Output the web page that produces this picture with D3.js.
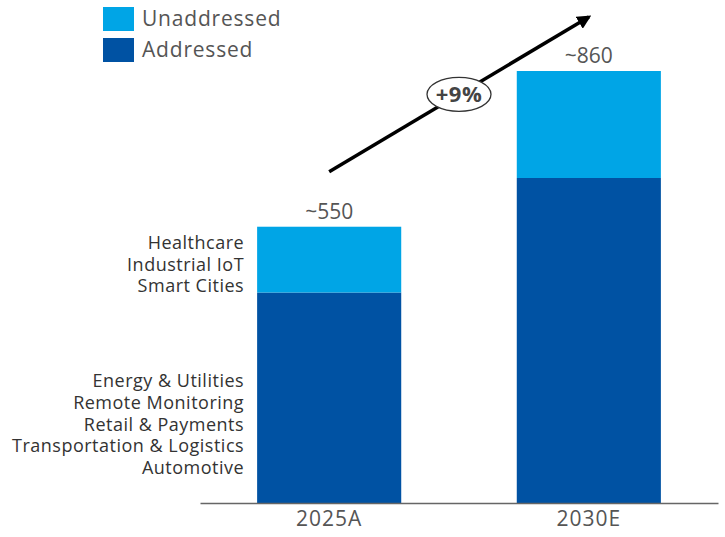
<!DOCTYPE html>
<html><head><meta charset="utf-8">
<script src="https://cdn.jsdelivr.net/npm/d3@7"></script>
<style>body{margin:0;background:#fff}svg{display:block}text{font-family:"Open Sans","Lato",sans-serif}</style>
</head><body><svg id="c" width="725" height="537"></svg>
<script>
const years = ["2025A", "2030E"];
const addressed = [419, 647];
const unaddressed = [131, 213];
const totalLabels = ["~550", "~860"];
const seriesNames = ["Unaddressed", "Addressed"];
const unaddressedSegments = ["Healthcare", "Industrial IoT", "Smart Cities"];
const addressedSegments = ["Energy & Utilities", "Remote Monitoring", "Retail & Payments", "Transportation & Logistics", "Automotive"];
const growthLabel = "+9%";

const colors = {Unaddressed: "#00a5e6", Addressed: "#0052a3"};
const textColor = "#555";
const svg = d3.select("#c");

const x = d3.scaleBand().domain(years).range([200, 718]).paddingInner(0.445).paddingOuter(0.22);
const y = d3.scaleLinear().domain([0, 860]).range([503, 71]);

const data = years.map((yr, i) => ({year: yr, Addressed: addressed[i], Unaddressed: unaddressed[i], label: totalLabels[i]}));
const stack = d3.stack().keys(["Addressed", "Unaddressed"])(data);

svg.append("g").selectAll("g").data(stack).join("g")
  .attr("fill", d => colors[d.key])
  .selectAll("rect").data(d => d).join("rect")
  .attr("x", d => x(d.data.year))
  .attr("width", x.bandwidth())
  .attr("y", d => y(d[1]))
  .attr("height", d => y(d[0]) - y(d[1]));

// axis
const ax = svg.append("g").attr("transform", "translate(0,503)").call(d3.axisBottom(x).tickSize(0).tickPadding(8));
ax.select(".domain").attr("stroke", "#666").attr("stroke-width", 1.5);
ax.selectAll("text").attr("font-size", 21).attr("fill", textColor).attr("font-family", "Open Sans").attr("letter-spacing", 1);

// totals
svg.selectAll("text.tot").data(data).join("text").attr("class", "tot")
  .attr("x", d => x(d.year) + x.bandwidth() / 2)
  .attr("y", d => y(d.Addressed + d.Unaddressed) - 8)
  .attr("text-anchor", "middle").attr("font-size", 21).attr("fill", textColor)
  .text(d => d.label);

// legend
const lg = svg.append("g");
seriesNames.forEach((n, i) => {
  lg.append("rect").attr("x", 103).attr("y", 7 + i * 31).attr("width", 31).attr("height", 24).attr("fill", colors[n]);
  lg.append("text").attr("x", 142).attr("y", 19 + i * 31).attr("dy", "0.35em")
    .attr("font-size", 21).attr("letter-spacing", 0.8).attr("fill", textColor).text(n);
});

// segment labels
const lx = x(years[0]) - 13;
const ytop0 = y(addressed[0] + unaddressed[0]);
svg.append("g").selectAll("text").data(unaddressedSegments).join("text")
  .attr("x", lx).attr("y", (d, i) => ytop0 + 16 + i * 21.7).attr("dy", "0.35em")
  .attr("text-anchor", "end").attr("font-size", 18).attr("letter-spacing", 0.5).attr("fill", "#333").text(d => d);
svg.append("g").selectAll("text").data(addressedSegments).join("text")
  .attr("x", lx).attr("y", (d, i) => y(0) - 35 - (addressedSegments.length - 1 - i) * 21.9).attr("dy", "0.35em")
  .attr("text-anchor", "end").attr("font-size", 18).attr("letter-spacing", 0.5).attr("fill", "#333").text(d => d);

// growth arrow
const p0 = [x(years[0]) + x.bandwidth() / 2, y(addressed[0] + unaddressed[0]) - 55];
const p1 = [x(years[1]) + x.bandwidth() / 2, y(addressed[1] + unaddressed[1]) - 54];
svg.append("defs").append("marker").attr("id", "ah").attr("viewBox", "0 0 10 10")
  .attr("refX", 8).attr("refY", 5).attr("markerWidth", 4).attr("markerHeight", 4).attr("orient", "auto")
  .append("path").attr("d", "M0,0L10,5L0,10Z").attr("fill", "#000");
svg.append("line").attr("x1", p0[0]).attr("y1", p0[1]).attr("x2", p1[0]).attr("y2", p1[1])
  .attr("stroke", "#000").attr("stroke-width", 3.5).attr("marker-end", "url(#ah)");
const mx = (p0[0] + p1[0]) / 2, my = (p0[1] + p1[1]) / 2;
svg.append("ellipse").attr("cx", mx).attr("cy", my).attr("rx", 32).attr("ry", 17)
  .attr("fill", "#fff").attr("stroke", "#333").attr("stroke-width", 1.3);
svg.append("text").attr("x", mx).attr("y", my).attr("dy", "0.35em").attr("text-anchor", "middle")
  .attr("font-size", 22).attr("font-weight", "bold").attr("letter-spacing", 0.5).attr("fill", "#444").text(growthLabel);
</script></body></html>
